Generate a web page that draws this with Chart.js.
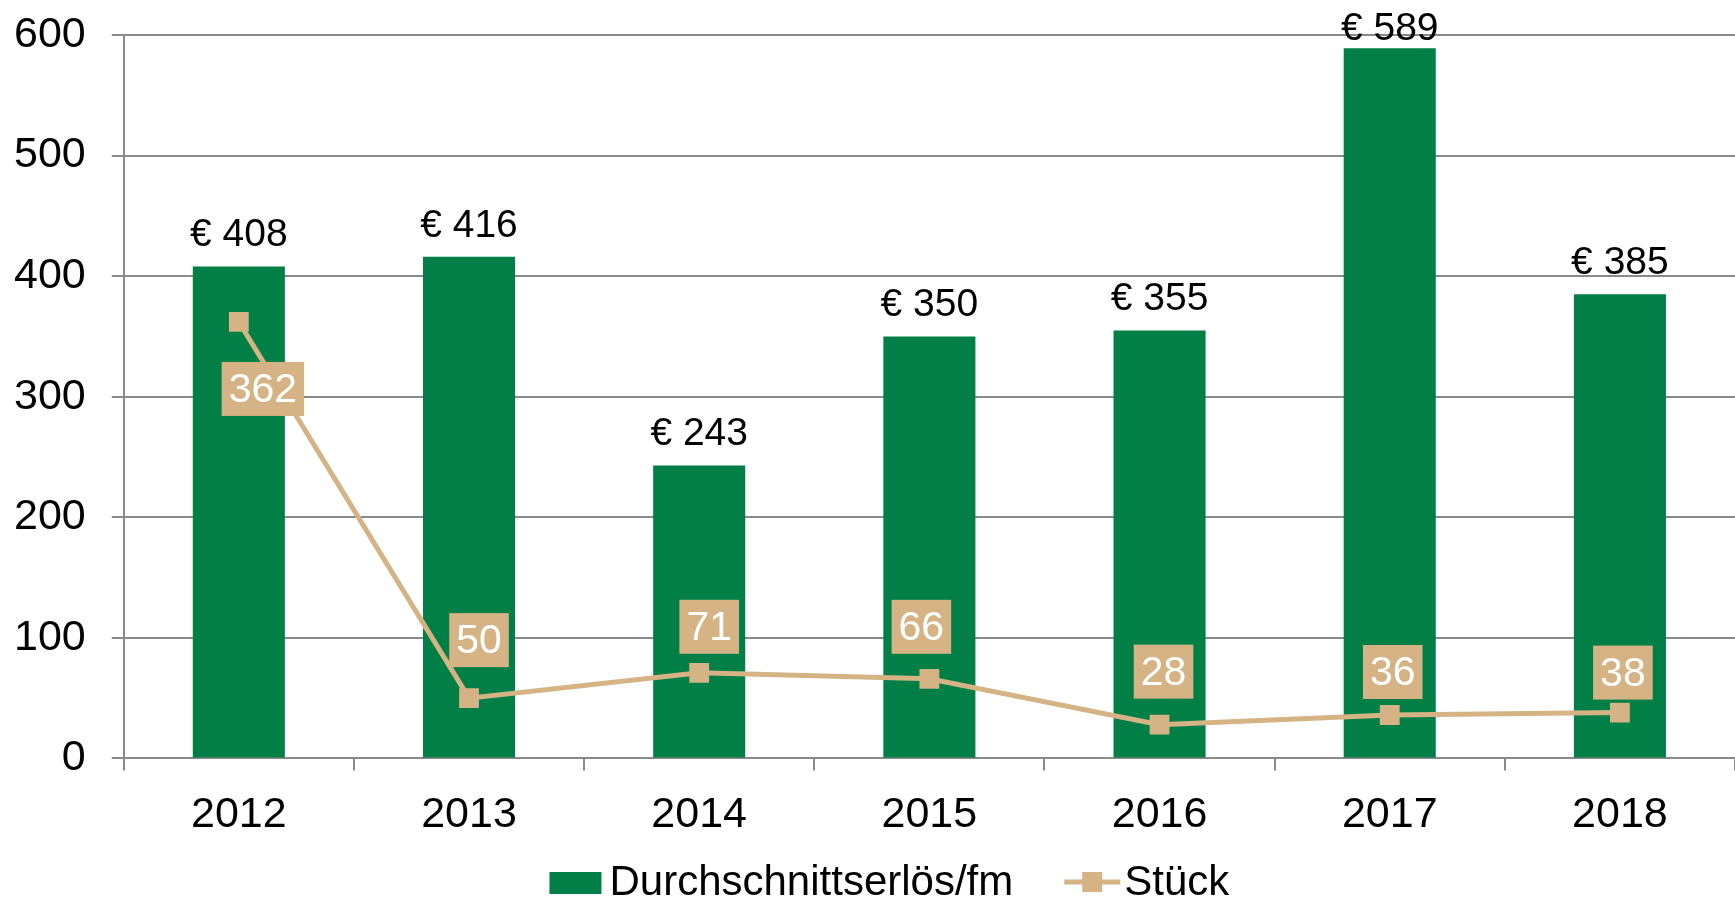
<!DOCTYPE html>
<html>
<head>
<meta charset="utf-8">
<title>Durchschnittserlös und Stück</title>
<script src="https://cdn.jsdelivr.net/npm/chart.js@4.4.1/dist/chart.umd.min.js"></script>
<style>
  html, body { margin: 0; padding: 0; background: #fff; overflow: hidden; }
  .chart-box { position: relative; width: 1735px; height: 899px; }
</style>
</head>
<body>
<div class="chart-box">
  <canvas id="chart"></canvas>
</div>
<script>
const years = ['2012', '2013', '2014', '2015', '2016', '2017', '2018'];
const avgRevenue = [408, 416, 243, 350, 355, 589, 385];
const pieces = [362, 50, 71, 66, 28, 36, 38];
const yTicks = [0, 100, 200, 300, 400, 500, 600];

const GREEN = '#027f47';
const TAN = '#d5b385';
const GRID = '#8a8a8a';
const FONT = '"Liberation Sans", Arial, sans-serif';

// labels: euro value above each bar, white number in a tan box near each point
const valueLabels = {
  id: 'valueLabels',
  afterDatasetsDraw(chart, args, opts) {
    const ctx = chart.ctx;
    const bars = chart.getDatasetMeta(0).data;
    const points = chart.getDatasetMeta(1).data;
    ctx.save();
    ctx.textAlign = 'center';

    ctx.font = '39px ' + FONT;
    ctx.fillStyle = '#000';
    ctx.textBaseline = 'alphabetic';
    bars.forEach((bar, i) => {
      const y = Math.max(bar.y - 20, 40);
      ctx.fillText('€ ' + avgRevenue[i], bar.x, y);
    });

    ctx.font = '41px ' + FONT;
    ctx.textBaseline = 'middle';
    points.forEach((pt, i) => {
      const off = opts.offsets[i];
      const text = String(pieces[i]);
      const w = ctx.measureText(text).width + 14;
      const h = 54;
      const cx = pt.x + off[0];
      const cy = pt.y + off[1];
      ctx.fillStyle = TAN;
      ctx.fillRect(cx - w / 2, cy - h / 2, w, h);
      ctx.fillStyle = '#fff';
      ctx.fillText(text, cx, cy + 2);
    });
    ctx.restore();
  }
};

// legend drawn under the axis, with a line+square marker for the line series
const bottomLegend = {
  id: 'bottomLegend',
  afterDraw(chart) {
    const ctx = chart.ctx;
    const ds = chart.data.datasets;
    ctx.save();
    ctx.font = '42px ' + FONT;
    ctx.textBaseline = 'middle';
    ctx.textAlign = 'left';
    const y = 883;
    const w1 = ctx.measureText(ds[0].label).width;
    const w2 = ctx.measureText(ds[1].label).width;
    const total = 52 + 8 + w1 + 51 + 56 + 4 + w2;
    let x = (chart.chartArea.left + chart.chartArea.right) / 2 - 40 - total / 2;

    ctx.fillStyle = ds[0].backgroundColor;
    ctx.fillRect(x, y - 11, 52, 22);
    x += 60;
    ctx.fillStyle = '#000';
    ctx.fillText(ds[0].label, x, y);
    x += w1 + 51;

    ctx.strokeStyle = ds[1].borderColor;
    ctx.lineWidth = 5;
    ctx.beginPath();
    ctx.moveTo(x, y - 1);
    ctx.lineTo(x + 56, y - 1);
    ctx.stroke();
    ctx.fillStyle = ds[1].borderColor;
    ctx.fillRect(x + 18, y - 11, 20, 20);
    x += 60;
    ctx.fillStyle = '#000';
    ctx.fillText(ds[1].label, x, y);
    ctx.restore();
  }
};

new Chart(document.getElementById('chart'), {
  type: 'bar',
  data: {
    labels: years,
    datasets: [
      {
        type: 'bar',
        label: 'Durchschnittserlös/fm',
        data: avgRevenue,
        backgroundColor: GREEN,
        barPercentage: 0.4,
        categoryPercentage: 1,
        order: 2,
      },
      {
        type: 'line',
        label: 'Stück',
        data: pieces,
        borderColor: TAN,
        backgroundColor: TAN,
        borderWidth: 5,
        pointStyle: 'rect',
        pointRadius: 14,
        pointBorderWidth: 0,
        pointBackgroundColor: TAN,
        tension: 0,
        order: 1,
      },
    ],
  },
  options: {
    responsive: true,
    maintainAspectRatio: false,
    animation: false,
    layout: {
      autoPadding: false,
      padding: { top: 35, left: 14, right: 0, bottom: 39 },
    },
    plugins: {
      legend: { display: false },
      tooltip: { enabled: false },
      valueLabels: {
        offsets: [[24, 67], [10, -58], [10, -46], [-8, -52], [4, -53], [3, -43], [3, -40]],
      },
    },
    scales: {
      x: {
        grid: {
          offset: true,
          drawOnChartArea: false,
          drawTicks: true,
          tickLength: 12,
          color: GRID,
          lineWidth: 2,
        },
        border: { color: GRID, width: 2 },
        ticks: {
          color: '#000',
          padding: 19,
          font: { family: FONT, size: 43 },
        },
      },
      y: {
        min: yTicks[0],
        max: yTicks[yTicks.length - 1],
        grid: {
          color: GRID,
          lineWidth: 2,
          tickLength: 12,
        },
        border: { color: GRID, width: 2 },
        ticks: {
          stepSize: yTicks[1] - yTicks[0],
          color: '#000',
          padding: 26,
          font: { family: FONT, size: 43 },
        },
        // chart.js pads the labels on both sides; keep only the inner gap
        afterFit(scale) {
          scale.width -= scale.options.ticks.padding;
          scale.paddingTop = 0;
          scale.paddingBottom = 0;
        },
      },
    },
  },
  plugins: [valueLabels, bottomLegend],
});
</script>
</body>
</html>
